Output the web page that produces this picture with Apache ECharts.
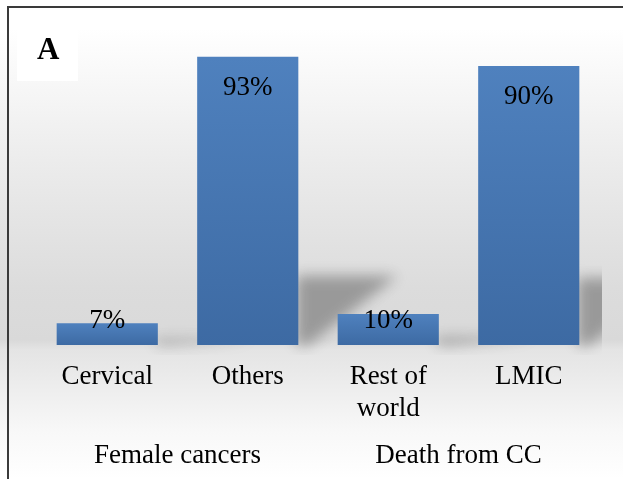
<!DOCTYPE html>
<html style="height: 100%">
<head>
<meta charset="utf-8">
<script src="https://cdn.jsdelivr.net/npm/echarts@6/dist/echarts.min.js"></script>
</head>
<body style="height: 100%; margin: 0">
<div id="container" style="width: 623px; height: 479px"></div>
<script type="text/javascript">
// data
var categories = ['Cervical', 'Others', 'Rest of\nworld', 'LMIC'];
var values = [7, 93, 10, 90];
var groups = ['Female cancers', 'Death from CC'];
var panelLabel = 'A';

var serif = '"Liberation Serif", "Times New Roman", serif';
var dom = document.getElementById('container');
var myChart = echarts.init(dom);

function barColor() {
    return new echarts.graphic.LinearGradient(0, 0, 0, 1, [
        {offset: 0, color: '#4f81be'},
        {offset: 1, color: '#3d6aa3'}
    ]);
}

// labels: big bars inside top, small bars sit on the top edge
var barData = values.map(function (v) {
    var item = {value: v};
    if (v > 50) {
        item.label = {position: 'insideTop', distance: 17};
    } else {
        item.label = {position: 'top', distance: v < 8 ? -12 : -21};
    }
    return item;
});

// soft shadow cast to the right of each bar
function renderShadow(params, api) {
    var v = api.value(1);
    var base = api.coord([api.value(0), 0]);
    var top = api.coord([api.value(0), v * 0.24]);
    var w = api.size([1, 0])[0] * 0.72;
    var xr = base[0] + w / 2 - 2;
    var far = 3000;
    var cs = params.coordSys;
    return {
        type: 'group',
        children: [{
            type: 'polygon',
            shape: {
                points: [
                    [xr - far, base[1]],
                    [xr - far, top[1]],
                    [xr + w - far, top[1]],
                    [xr + w * 0.12 - far, base[1]]
                ]
            },
            style: {
                fill: '#9e9e9e',
                shadowBlur: 14,
                shadowColor: 'rgba(150,150,150,0.95)',
                shadowOffsetX: far
            },
            silent: true
        }],
        clipPath: {
            type: 'rect',
            shape: {x: cs.x - far, y: cs.y, width: far + cs.width + 3, height: cs.height + 10}
        }
    };
}

var option = {
    animation: false,
    graphic: [
        {
            type: 'rect',
            z: -10,
            shape: {x: 0, y: 0, width: 623, height: 479},
            style: {
                fill: new echarts.graphic.LinearGradient(0, 0, 0, 1, [
                    {offset: 0, color: '#ffffff'},
                    {offset: 0.06, color: '#ffffff'},
                    {offset: 0.35, color: '#ebebeb'},
                    {offset: 0.6, color: '#dcdcdc'},
                    {offset: 0.71, color: '#d9d9d9'},
                    {offset: 0.73, color: '#e4e4e4'},
                    {offset: 0.9, color: '#f8f8f8'},
                    {offset: 1, color: '#ffffff'}
                ])
            },
            silent: true
        },
        {
            type: 'rect',
            z: 100,
            shape: {x: 8, y: 7, width: 640, height: 500},
            style: {fill: 'none', stroke: '#3a3a3a', lineWidth: 2},
            silent: true
        },
        {
            type: 'rect',
            z: 5,
            shape: {x: 17, y: 23, width: 61, height: 58},
            style: {fill: '#ffffff'},
            silent: true
        },
        {
            type: 'text',
            z: 6,
            left: 37,
            top: 35,
            style: {
                text: panelLabel,
                font: 'bold 31px ' + serif,
                fill: '#000000'
            }
        }
    ],
    grid: {left: 37, right: 24, top: 35, bottom: 134},
    xAxis: [
        {
            type: 'category',
            data: categories,
            axisLine: {show: false},
            axisTick: {show: false},
            axisLabel: {
                margin: 16,
                fontFamily: serif,
                fontSize: 27,
                lineHeight: 32,
                color: '#000000',
                interval: 0
            }
        },
        {
            type: 'category',
            data: groups,
            position: 'bottom',
            offset: 0,
            axisLine: {show: false},
            axisTick: {show: false},
            axisLabel: {
                margin: 95,
                fontFamily: serif,
                fontSize: 27,
                lineHeight: 32,
                color: '#000000',
                interval: 0
            }
        }
    ],
    yAxis: {
        type: 'value',
        min: 0,
        max: 100,
        show: false,
        splitLine: {show: false}
    },
    series: [
        {
            type: 'custom',
            z: 1,
            xAxisIndex: 0,
            renderItem: renderShadow,
            data: values.map(function (v, i) { return [i, v]; })
        },
        {
            type: 'bar',
            z: 3,
            xAxisIndex: 0,
            barWidth: '72%',
            data: barData,
            itemStyle: {color: barColor()},
            label: {
                show: true,
                formatter: '{c}%',
                fontFamily: serif,
                fontSize: 27,
                lineHeight: 28,
                color: '#000000'
            }
        }
    ]
};
myChart.setOption(option);
</script>
</body>
</html>
